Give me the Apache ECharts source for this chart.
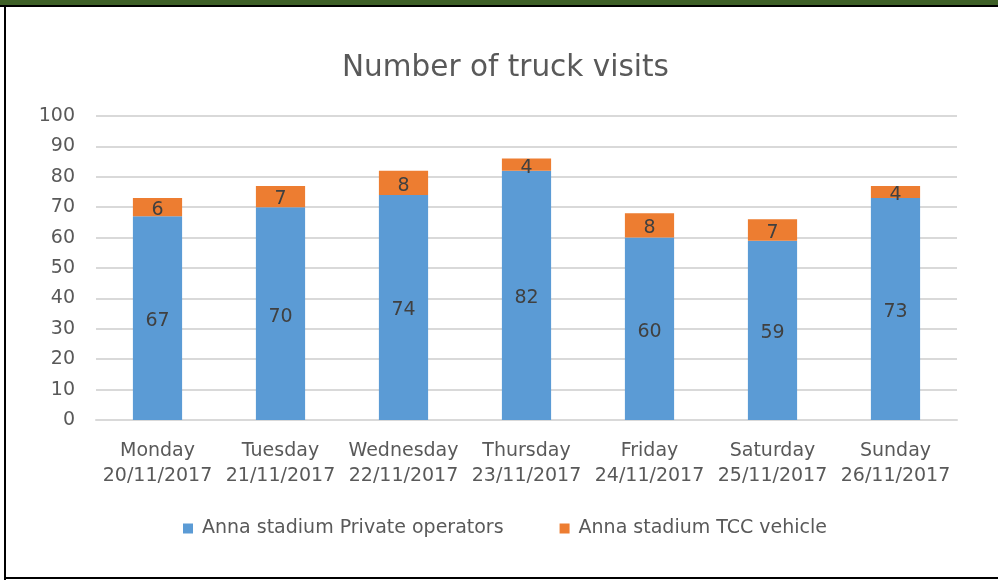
<!DOCTYPE html>
<html>
<head>
    <meta charset="utf-8">
    <title>Number of truck visits</title>
    <script src="https://cdn.jsdelivr.net/npm/echarts@6/dist/echarts.min.js"></script>
    <style>
        html, body { margin: 0; padding: 0; background: #fff; }
    </style>
</head>
<body>
    <div id="main" style="width: 998px;height:581px;"></div>
    <script type="text/javascript">
        var days = ['Monday\n20/11/2017', 'Tuesday\n21/11/2017', 'Wednesday\n22/11/2017',
            'Thursday\n23/11/2017', 'Friday\n24/11/2017', 'Saturday\n25/11/2017', 'Sunday\n26/11/2017'];
        var privateOps = [67, 70, 74, 82, 60, 59, 73];
        var tccVehicle = [6, 7, 8, 4, 8, 7, 4];
        var seriesNames = ['Anna stadium Private operators', 'Anna stadium TCC vehicle'];

        var myChart = echarts.init(document.getElementById('main'));
        var font = 'DejaVu Sans';

        var option = {
            backgroundColor: '#fff',
            animation: false,
            // frame around the chart (green band + black lines)
            graphic: [
                { type: 'rect', shape: { x: 0, y: 0, width: 998, height: 5 }, style: { fill: '#3e6027' } },
                { type: 'rect', shape: { x: 0, y: 5, width: 998, height: 2 }, style: { fill: '#000' } },
                { type: 'rect', shape: { x: 4, y: 5, width: 2, height: 575 }, style: { fill: '#000' } },
                { type: 'rect', shape: { x: 4, y: 577, width: 994, height: 2 }, style: { fill: '#000' } }
            ],
            title: {
                text: 'Number of truck visits',
                left: 337,
                top: 48,
                textStyle: { color: '#595959', fontSize: 29.5, fontWeight: 'normal', fontFamily: font }
            },
            legend: {
                data: seriesNames,
                top: 514,
                left: 178,
                icon: 'rect',
                itemWidth: 10,
                itemHeight: 10,
                itemGap: 56,
                textStyle: { color: '#595959', fontSize: 19, fontFamily: font, padding: [0, 0, 0, 4] }
            },
            grid: { left: 96, right: 41, top: 116, bottom: 161 },
            xAxis: {
                type: 'category',
                data: days,
                axisLine: { lineStyle: { color: '#d9d9d9', width: 2 } },
                axisTick: { show: false },
                axisLabel: { color: '#595959', fontSize: 19, fontFamily: font, lineHeight: 25, margin: 19, interval: 0 }
            },
            yAxis: {
                type: 'value',
                min: 0,
                max: 100,
                interval: 10,
                axisLine: { show: false },
                axisTick: { show: false },
                axisLabel: { color: '#595959', fontSize: 19, fontFamily: font, margin: 21 },
                splitLine: { lineStyle: { color: '#d9d9d9', width: 2 } }
            },
            series: [
                {
                    name: seriesNames[0],
                    type: 'bar',
                    stack: 'total',
                    data: privateOps,
                    barWidth: '40%',
                    itemStyle: { color: '#5b9bd5' },
                    label: { show: true, position: 'inside', offset: [0, 3], color: '#404040', fontSize: 19, fontFamily: font }
                },
                {
                    name: seriesNames[1],
                    type: 'bar',
                    stack: 'total',
                    data: tccVehicle,
                    itemStyle: { color: '#ed7d31' },
                    label: { show: true, position: 'inside', offset: [0, 3], color: '#404040', fontSize: 19, fontFamily: font }
                }
            ]
        };
        myChart.setOption(option);
    </script>
</body>
</html>
